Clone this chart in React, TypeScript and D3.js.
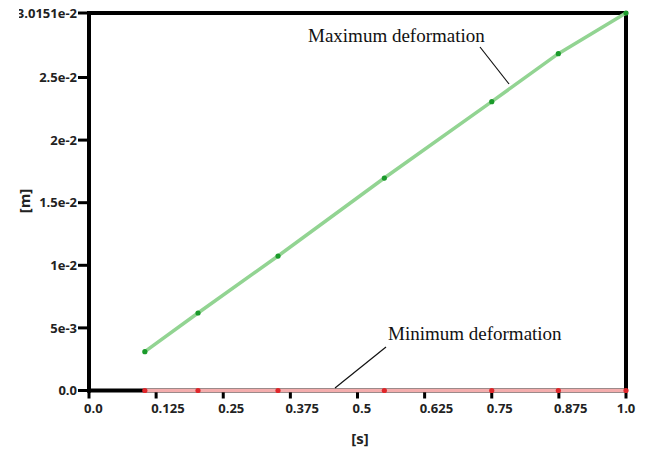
import React, { useEffect, useRef } from "react";
import * as d3 from "d3";

// time steps [s]
const times = [0.104, 0.203, 0.352, 0.55, 0.75, 0.874, 1.0];
// deformation [m]
const maxDeformation = [0.0031, 0.00619, 0.01074, 0.01697, 0.02307, 0.0269, 0.030151];
const minDeformation = [0, 0, 0, 0, 0, 0, 0];

const xTicks = [0, 0.125, 0.25, 0.375, 0.5, 0.625, 0.75, 0.875, 1.0];
const xTickLabels = ["0.0", "0.125", "0.25", "0.375", "0.5", "0.625", "0.75", "0.875", "1.0"];
const yTicks = [0, 0.005, 0.01, 0.015, 0.02, 0.025, 0.030151];
const yTickLabels = ["0.0", "5e-3", "1e-2", "1.5e-2", "2e-2", "2.5e-2", "3.0151e-2"];

export default function App() {
  const ref = useRef<SVGSVGElement>(null);

  useEffect(() => {
    drawChart();
  }, []);

  function drawChart() {
    const svg = d3.select(ref.current);
    svg.selectAll("*").remove();

    const left = 89, right = 626, top = 13, bottom = 390.5;
    const x = d3.scaleLinear().domain([0, 1]).range([left, right]);
    const y = d3.scaleLinear().domain([0, 0.030151]).range([bottom, top]);

    // the top label is cut off at its left edge in the original
    const defs = svg.append("defs");
    defs.append("clipPath").attr("id", "labelClip")
      .append("rect").attr("x", 19).attr("y", 0).attr("width", 200).attr("height", 452);

    const tickFont = "'Open Sans', 'Noto Sans', sans-serif";

    // frame (top and right)
    svg.append("path")
      .attr("d", `M${left},${top}H${right}V${bottom}`)
      .attr("fill", "none")
      .attr("stroke", "#000")
      .attr("stroke-width", 4);

    // y axis
    svg.append("line")
      .attr("x1", left).attr("x2", left).attr("y1", top - 2).attr("y2", bottom + 2)
      .attr("stroke", "#000").attr("stroke-width", 4);
    yTicks.forEach((t, i) => {
      svg.append("line")
        .attr("x1", left - 11).attr("x2", left)
        .attr("y1", y(t)).attr("y2", y(t))
        .attr("stroke", "#000").attr("stroke-width", 3);
      svg.append("text")
        .attr("x", 77).attr("y", y(t))
        .attr("dy", "0.36em")
        .attr("text-anchor", "end")
        .attr("clip-path", i === yTicks.length - 1 ? "url(#labelClip)" : null)
        .style("font-family", tickFont)
        .style("font-size", "13px")
        .style("font-weight", 700)
        .style("fill", "#222")
        .text(yTickLabels[i]);
    });

    // x axis
    svg.append("line")
      .attr("x1", left - 2).attr("x2", right).attr("y1", bottom).attr("y2", bottom)
      .attr("stroke", "#000").attr("stroke-width", 4);
    xTicks.forEach((t, i) => {
      svg.append("line")
        .attr("x1", x(t)).attr("x2", x(t))
        .attr("y1", bottom).attr("y2", bottom + 8)
        .attr("stroke", "#000").attr("stroke-width", 3);
      const last = i === xTicks.length - 1;
      svg.append("text")
        .attr("x", last ? x(t) : x(t) - 5).attr("y", 413)
        .attr("text-anchor", last ? "middle" : "start")
        .style("font-family", tickFont)
        .style("font-size", "13px")
        .style("font-weight", 700)
        .style("fill", "#222")
        .text(xTickLabels[i]);
    });

    // axis titles
    svg.append("text")
      .attr("x", 360).attr("y", 444)
      .attr("text-anchor", "middle")
      .style("font-family", tickFont)
      .style("font-size", "15px")
      .style("font-weight", 700)
      .style("fill", "#222")
      .text("[s]");
    svg.append("text")
      .attr("transform", "translate(30,201) rotate(-90)")
      .attr("text-anchor", "middle")
      .style("font-family", tickFont)
      .style("font-size", "15px")
      .style("font-weight", 700)
      .style("fill", "#222")
      .text("[m]");

    const line = d3.line<number>()
      .x((d, i) => x(times[i]))
      .y((d) => y(d));

    const series = [
      { values: minDeformation, line: "#f4adad", dot: "#e0262a" },
      { values: maxDeformation, line: "#92d492", dot: "#1a9a2a" },
    ];
    series.forEach((s) => {
      svg.append("path")
        .datum(s.values)
        .attr("d", line)
        .attr("fill", "none")
        .attr("stroke", s.line)
        .attr("stroke-width", 3.5);
      svg.selectAll(null)
        .data(s.values)
        .enter()
        .append("circle")
        .attr("cx", (d, i) => x(times[i]))
        .attr("cy", (d) => y(d))
        .attr("r", 2.6)
        .attr("fill", s.dot);
    });

    // annotations
    const annFont = "'Liberation Serif', 'Times New Roman', serif";
    svg.append("text")
      .attr("x", 308).attr("y", 42)
      .style("font-family", annFont)
      .style("font-size", "19px")
      .style("fill", "#111")
      .text("Maximum deformation");
    svg.append("line")
      .attr("x1", 480).attr("y1", 47).attr("x2", 509).attr("y2", 84)
      .attr("stroke", "#111").attr("stroke-width", 1.2);

    svg.append("text")
      .attr("x", 388).attr("y", 340)
      .style("font-family", annFont)
      .style("font-size", "19px")
      .style("fill", "#111")
      .text("Minimum deformation");
    svg.append("line")
      .attr("x1", 386).attr("y1", 347).attr("x2", 335).attr("y2", 388)
      .attr("stroke", "#111").attr("stroke-width", 1.2);
  }

  return (
    <div style={{ position: "absolute", left: 0, top: 0, width: 646, height: 452, background: "#fff" }}>
      <svg ref={ref} width={646} height={452} />
    </div>
  );
}
